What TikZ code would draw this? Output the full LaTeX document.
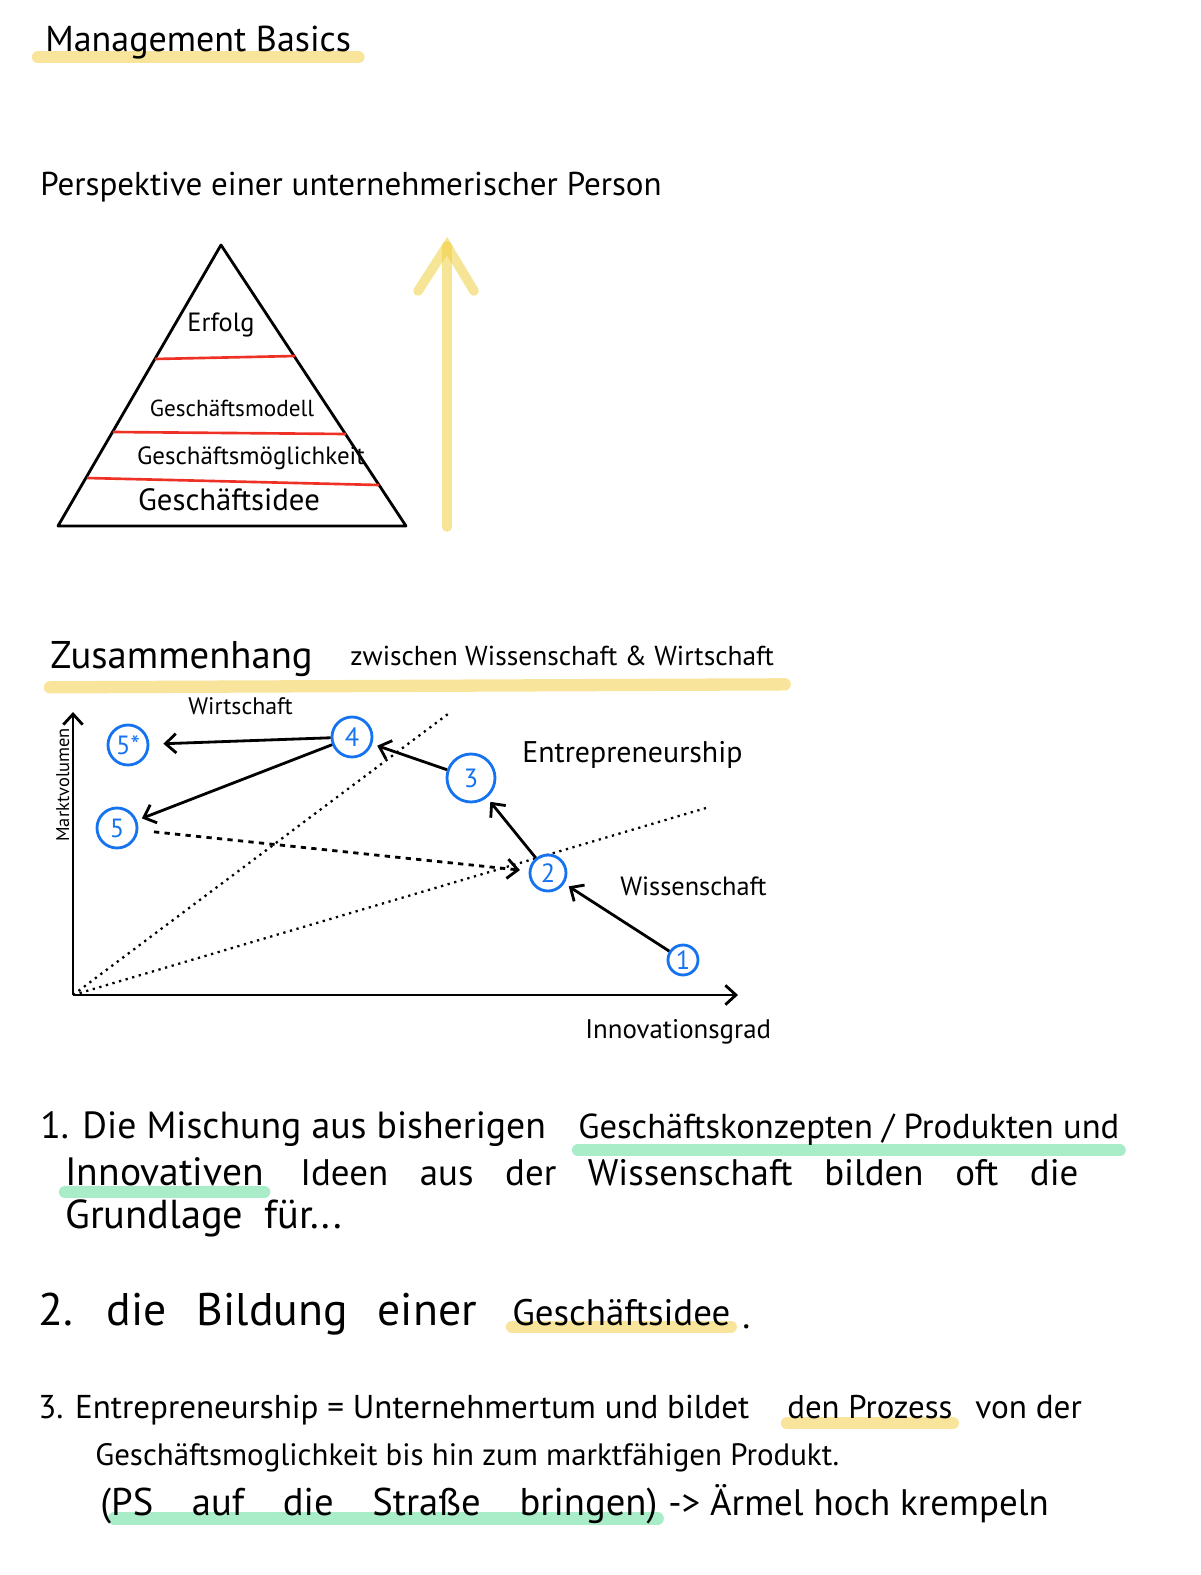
\documentclass[tikz,border=0pt]{standalone}
\usepackage{fontspec}
\setmainfont{PT Sans}
\usetikzlibrary{arrows.meta,backgrounds}
\definecolor{hlyellow}{HTML}{F8E49A}
\definecolor{hlgreen}{HTML}{A9EDC8}
\definecolor{arrowyellow}{HTML}{F1CC30}
\definecolor{pyrred}{HTML}{EE3124}
\definecolor{stageblue}{HTML}{1673F0}

\begin{document}
\begin{tikzpicture}[x=0.02cm,y=-0.02cm,>={Straight Barb[length=6pt,width=11pt]},
        hand/.style={font=\fontsize{#1}{#1}\selectfont,inner sep=0pt,anchor=base west},
        hand/.default=18,
        wide/.style={execute at begin node={\spaceskip=#1\relax}},
        pyrlabel/.style={font=\fontsize{#1}{#1}\selectfont,inner sep=0pt},
        pyrlabel/.default=13,
        highlight/.style={line width=7pt,line cap=round,#1},
        stage/.style={circle,draw=stageblue,text=stageblue,line width=1.6pt,inner sep=0pt,minimum size={#1*0.02cm},font=\fontsize{15}{15}\selectfont},
        flow/.style={->,line width=1.6pt,shorten >=3pt},
        guide/.style={line width=1.3pt,dash pattern=on 1.3pt off 2.6pt}]
        \path[use as bounding box] (0,0) rectangle (1200,1575);

        \node[hand=20.5] (mgmt) at (45,52) {Management Basics};
        \node[hand=18.8] (persp) at (40,195) {Perspektive einer unternehmerischer Person};

        \coordinate (apex) at (221,245);
        \coordinate (bl) at (58,526);
        \coordinate (br) at (406,526);
        \draw[line width=1.6pt,line join=round] (apex) -- (bl) -- (br) -- cycle;
        \draw[pyrred,line width=1.5pt] (155,359) -- (295,356);
        \draw[pyrred,line width=1.5pt] (113,432) -- (346,434);
        \draw[pyrred,line width=1.5pt] (87,478) -- (379,485);
        \node[pyrlabel=15] (erfolg) at (221,325) {Erfolg};
        \node[pyrlabel=13.2] (modell) at (232,408) {Geschäftsmodell};
        \node[pyrlabel=14.2] (moegl) at (251,458) {Geschäftsmöglichkeit};
        \node[pyrlabel=17.5] (idee) at (229,500) {Geschäftsidee};

        \coordinate (ybot) at (447,527);
        \coordinate (ytop) at (447,246);
        \coordinate (yleft) at (418,291);
        \coordinate (yright) at (474,291);
        \draw[arrowyellow,opacity=0.5,line width=5.5pt,line cap=round] (ybot) -- (ytop);
        \draw[arrowyellow,opacity=0.5,line width=5.5pt,line cap=round] (yleft) -- (ytop) -- (yright);

        \node[hand=22] (zus) at (50,668) {Zusammenhang};
        \node[hand=15.6] (zw) at (350,665) {zwischen Wissenschaft \& Wirtschaft};

        \coordinate (o) at (73,995);
        \coordinate (ymax) at (73,712);
        \coordinate (xmax) at (738,995);
        \draw[->,line width=1.6pt] (o) -- (ymax);
        \draw[->,line width=1.6pt] (o) -- (xmax);
        \coordinate (g1) at (448,714);
        \coordinate (g2) at (706,808);
        \draw[guide] (o) -- (g1);
        \draw[guide] (o) -- (g2);

        \node[hand=10.5,rotate=90] (markt) at (69,842) {Marktvolumen};
        \node[hand=13.6] (wirt) at (188,714) {Wirtschaft};
        \node[hand=17] (entre) at (522,762) {Entrepreneurship};
        \node[hand=15] (wiss) at (620,895) {Wissenschaft};
        \node[hand=15.3] (innov) at (585,1038) {Innovationsgrad};

        \node[stage=40] (s5s) at (128,745) {5*};
        \node[stage=40] (s4) at (352,737) {4};
        \node[stage=48] (s3) at (471,778) {3};
        \node[stage=40] (s5) at (117,828) {5};
        \node[stage=36] (s2) at (548,873) {2};
        \node[stage=30] (s1) at (683,960) {1};

        \path
            (s4) edge[flow,shorten >=8pt] (s5s)
            (s4) edge[flow] (s5)
            (s3) edge[flow] (s4)
            (s2) edge[flow] (s3)
            (s1) edge[flow] (s2)
            (s5) edge[flow,dashed,shorten <=9pt,shorten >=5pt] (s2)
            ;

        \node[hand=21.5] (l1a) at (40,1138) {1. Die Mischung aus bisherigen};
        \node[hand=19.7] (l1b) at (578,1138) {Geschäftskonzepten / Produkten und};
        \node[hand=22.5] (l2a) at (65,1185) {Innovativen};
        \node[hand=21,wide=18pt] (l2b) at (300,1185) {Ideen aus der Wissenschaft bilden oft die};
        \node[hand=23,wide=12pt] (l3) at (65,1228) {Grundlage für...};
        \node[hand=26,wide=17pt] (l4a) at (38,1325) {2. die Bildung einer};
        \node[hand=21] (l4b) at (512,1325) {Geschäftsidee};
        \node[hand=21] (l4c) at (742,1328) {.};
        \node[hand=18.8] (l5a) at (38,1418) {3. Entrepreneurship = Unternehmertum und bildet};
        \node[hand=18.7] (l5b) at (787,1418) {den Prozess};
        \node[hand=18.9] (l5c) at (975,1418) {von der};
        \node[hand=17.6] (l6) at (95,1465) {Geschäftsmoglichkeit bis hin zum marktfähigen Produkt.};
        \node[hand=22,wide=22pt] (l7a) at (100,1515) {(PS auf die Straße bringen)};
        \node[hand=21] (l7b) at (668,1515) {-> Ärmel hoch krempeln};

        \begin{scope}[on background layer]
            \fill[white] (0,0) rectangle (1200,1575);
            \draw[highlight=hlyellow] ([xshift=-4pt,yshift=-3pt]mgmt.base west) -- ([xshift=4pt,yshift=-3pt]mgmt.base east);
            \draw[highlight=hlyellow] ([yshift=-11pt]zus.base west) -- ([xshift=6pt,yshift=-11pt]zw.base east);
            \draw[highlight=hlgreen] ([yshift=-7pt]l1b.base west) -- ([yshift=-7pt]l1b.base east);
            \draw[highlight=hlgreen] ([yshift=-4pt]l2a.base west) -- ([yshift=-4pt]l2a.base east);
            \draw[highlight=hlyellow] ([yshift=-1pt]l4b.base west) -- ([yshift=-1pt]l4b.base east);
            \draw[highlight=hlyellow] ([yshift=-3pt]l5b.base west) -- ([yshift=-3pt]l5b.base east);
            \draw[highlight=hlgreen] ([xshift=8pt,yshift=-2pt]l7a.base west) -- ([yshift=-2pt]l7a.base east);
        \end{scope}
        \end{tikzpicture}
\end{document}
